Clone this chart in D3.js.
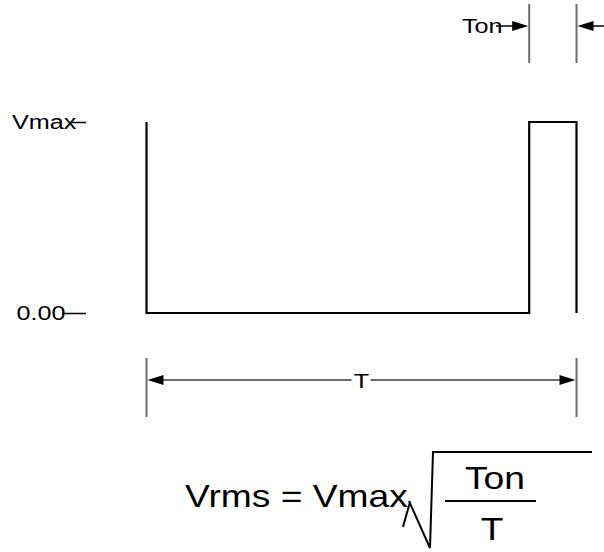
<!DOCTYPE html>
<html>
<head>
<meta charset="utf-8">
<script src="https://cdn.jsdelivr.net/npm/d3@7"></script>
<style>
  body { margin: 0; background: #fff; }
  svg text { font-family: "Liberation Sans", Arial, sans-serif; fill: #000; }
</style>
</head>
<body>
<script>
// waveform: one period, normalised time 0..1, level 0 (0.00) .. 1 (Vmax)
var waveTime = [0, 0, 0.89, 0.89, 1, 1];
var waveLevel = [1, 0, 0, 1, 1, 0];
var levelValues = [0, 1];
var levelLabels = ['0.00', 'Vmax'];
var pulseStart = 0.89;   // Ton begins here
var periodEnd = 1;       // T
var formulaLeft = 'Vrms = Vmax';
var fracTop = 'Ton';
var fracBottom = 'T';

var width = 604, height = 552;
var stretch = 1.2;   // the reference text is drawn a little wide
var grey = '#6b6b6b';

var svg = d3.select('body').append('svg')
    .attr('width', width)
    .attr('height', height);

var x = d3.scaleLinear().domain([0, 1]).range([146.5, 576.5]);
var y = d3.scaleLinear().domain([0, 1]).range([313, 122]);

function label (g, txt, px, py, size, anchor) {
    return g.append('text')
        .attr('transform', 'translate(' + px + ',' + py + ') scale(' + stretch + ',1)')
        .attr('font-size', size)
        .attr('text-anchor', anchor || 'start')
        .text(txt);
}

function arrow (g, tipX, ay, dir, color) {
    // dir = 1 points right, -1 points left
    var len = 16, half = 5;
    g.append('path')
        .attr('d', 'M' + tipX + ',' + ay +
            'L' + (tipX - dir * len) + ',' + (ay - half) +
            'L' + (tipX - dir * len) + ',' + (ay + half) + 'Z')
        .attr('fill', color || '#000');
}

// level axis
var axis = d3.axisLeft(y)
    .tickValues(levelValues)
    .tickSize(16)
    .tickFormat(function (d, i) { return levelLabels[i]; });

var axisG = svg.append('g')
    .attr('transform', 'translate(86,0)')
    .call(axis);
axisG.select('.domain').remove();
axisG.selectAll('.tick line')
    .attr('stroke', '#000')
    .attr('stroke-width', 1.5)
    .attr('x2', function (d) { return d === 0 ? -24 : -15; });
axisG.selectAll('.tick text')
    .attr('font-size', 21)
    .attr('font-family', '"Liberation Sans", Arial, sans-serif')
    .attr('fill', '#000')
    .attr('x', function (d) { return d === 0 ? -17 : -8; })
    .attr('dy', '0.33em')
    .attr('transform', 'scale(' + stretch + ',1)');

// waveform
var line = d3.line()
    .x(function (d) { return x(d[0]); })
    .y(function (d) { return y(d[1]); });

svg.append('path')
    .datum(d3.zip(waveTime, waveLevel))
    .attr('d', line)
    .attr('fill', 'none')
    .attr('stroke', '#000')
    .attr('stroke-width', 2.2);

// Ton dimension at the top
var tonG = svg.append('g');
[pulseStart, periodEnd].forEach(function (t) {
    tonG.append('line')
        .attr('x1', x(t)).attr('x2', x(t))
        .attr('y1', 4).attr('y2', 63)
        .attr('stroke', grey).attr('stroke-width', 2);
});
label(tonG, 'Ton', 462, 33, 21);
tonG.append('line')
    .attr('x1', 496).attr('x2', x(pulseStart) - 10)
    .attr('y1', 26).attr('y2', 26)
    .attr('stroke', '#000').attr('stroke-width', 1.5);
arrow(tonG, x(pulseStart) - 1, 26, 1);
tonG.append('line')
    .attr('x1', x(periodEnd) + 10).attr('x2', width)
    .attr('y1', 26).attr('y2', 26)
    .attr('stroke', '#000').attr('stroke-width', 1.5);
arrow(tonG, x(periodEnd) + 1, 26, -1);

// T dimension below
var tG = svg.append('g');
var dimY = 380;
[0, periodEnd].forEach(function (t) {
    tG.append('line')
        .attr('x1', x(t)).attr('x2', x(t))
        .attr('y1', 358).attr('y2', 417)
        .attr('stroke', grey).attr('stroke-width', 2);
});
var mid = (x(0) + x(periodEnd)) / 2;
tG.append('line')
    .attr('x1', x(0) + 10).attr('x2', mid - 10)
    .attr('y1', dimY).attr('y2', dimY)
    .attr('stroke', grey).attr('stroke-width', 2);
tG.append('line')
    .attr('x1', mid + 9).attr('x2', x(periodEnd) - 10)
    .attr('y1', dimY).attr('y2', dimY)
    .attr('stroke', grey).attr('stroke-width', 2);
arrow(tG, x(0) + 1, dimY, -1);
arrow(tG, x(periodEnd) - 1, dimY, 1);
label(tG, 'T', mid, dimY + 8, 21, 'middle');

// formula
var fG = svg.append('g');
label(fG, formulaLeft, 185, 507, 31);
fG.append('path')
    .attr('d', 'M403,527L410,502M409,501L430,548L433,452L592,452')
    .attr('fill', 'none')
    .attr('stroke', '#000')
    .attr('stroke-width', 2);
label(fG, fracTop, 495, 489, 31, 'middle');
fG.append('line')
    .attr('x1', 445).attr('x2', 536)
    .attr('y1', 501).attr('y2', 501)
    .attr('stroke', '#000').attr('stroke-width', 2);
label(fG, fracBottom, 492, 540, 31, 'middle');
</script>
</body>
</html>
